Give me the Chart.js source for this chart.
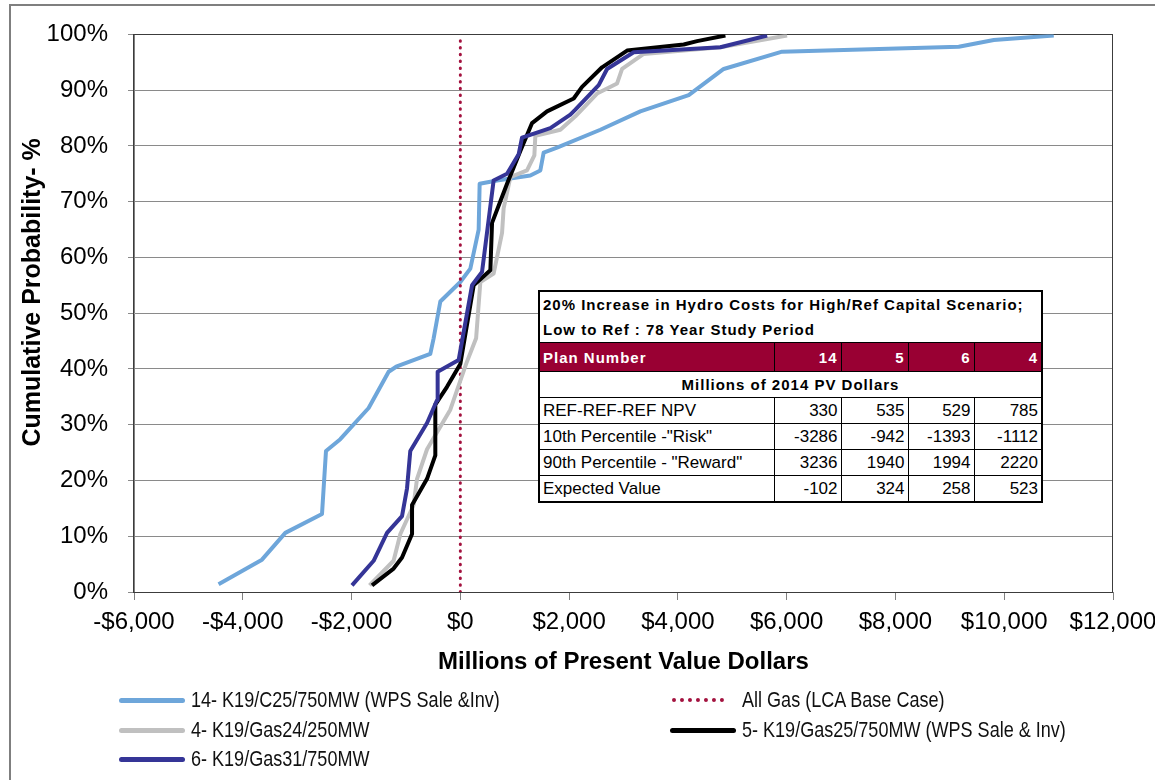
<!DOCTYPE html>
<html>
<head>
<meta charset="utf-8">
<script src="https://cdn.jsdelivr.net/npm/chart.js@4.4.0/dist/chart.umd.min.js"></script>
<style>
html,body{margin:0;padding:0;background:#fff;overflow:hidden;}
#wrap{position:relative;width:1155px;height:780px;overflow:hidden;}
#frame{position:absolute;left:9px;top:4px;width:1200px;height:820px;border:2px solid #7f7f7f;box-sizing:border-box;}
#c{position:absolute;left:0;top:0;}
#tbl{position:absolute;left:538px;top:290px;border-collapse:collapse;table-layout:fixed;border:2px solid #000;background:#fff;font-family:'Liberation Sans',Arial,sans-serif;color:#000;}
#tbl td{padding:0 3px;border:1px solid #000;white-space:nowrap;overflow:hidden;font-size:17px;height:25px;line-height:25px;}
#tbl tr.t td{border:none;font-weight:bold;font-size:15px;letter-spacing:1px;text-align:left;height:25px;}
#tbl tr.t1 td{border-top:2px solid #000;}
#tbl tr.h td{background:#990033;color:#fff;font-weight:bold;font-size:15px;letter-spacing:1px;height:28px;text-align:right;}
#tbl tr.h td:first-child{text-align:left;}
#tbl tr.m td{font-weight:bold;font-size:15px;letter-spacing:1px;text-align:center;}
#tbl tr.d td{text-align:right;}
#tbl tr.d td:first-child{text-align:left;}
.lgi{position:absolute;height:30px;line-height:30px;font-family:'Liberation Sans',Arial,sans-serif;font-size:22px;color:#111;white-space:nowrap;}
.sym{display:inline-block;vertical-align:middle;margin-right:6px;}
.txt{display:inline-block;vertical-align:middle;transform:scaleX(0.82);transform-origin:0 50%;}
</style>
</head>
<body>
<div id="wrap">
<div id="frame"></div>
<canvas id="c" width="1155" height="780"></canvas>
<table id="tbl"></table>
<div id="legend"></div>
</div>
<script>
// ---- data ----
const plan14X = [-4445,-3647,-3218,-2543,-2470,-2207,-1686,-1318,-1180,-552,-491,-368,0,184,337,355,675,1287,1471,1532,1778,2575,3310,4199,4842,5916,9164,9808,10911];
const plan14Y = [1.4,5.8,10.6,14.0,25.3,27.4,33.0,39.5,40.4,42.7,45.5,52.1,55.6,58.0,65.0,73.2,73.8,74.7,75.6,78.8,79.7,82.9,86.2,89.1,93.8,96.9,97.8,99.0,99.8];

const allGasX = [0,0];
const allGasY = [0,100];

const plan4X = [-1670,-1227,-1103,-859,-796,-612,-184,110,290,368,612,767,796,920,1226,1361,1379,1839,2115,2514,2882,2974,3371,4782,6008];
const plan4Y = [1.2,5.6,10.4,15.6,20.3,25.6,32.7,41.0,45.5,55.6,57.1,64.4,68.8,74.4,75.6,78.3,81.8,82.9,85.3,89.4,91.2,93.8,96.5,97.7,99.8];

const plan5X = [-1624,-1227,-1072,-888,-888,-612,-460,-460,-245,0,245,552,583,859,1103,1319,1594,2084,2238,2606,3066,4107,4353,4874];
const plan5Y = [1.2,4.2,6.2,10.4,15.6,20.3,24.5,33.6,36.8,40.9,55.0,57.7,66.2,73.2,79.1,84.1,86.2,88.5,90.6,94.1,97.1,98.2,98.8,99.8];

const plan6X = [-1992,-1594,-1348,-1072,-980,-920,-612,-429,-417,-31,215,399,612,859,1072,1134,1655,2023,2115,2544,2698,3187,4782,5641];
const plan6Y = [1.2,5.6,10.6,13.6,18.6,25.3,30.3,34.4,39.5,41.6,55.0,57.4,73.8,75.0,78.5,81.5,83.2,85.6,86.5,90.9,93.8,96.8,97.7,99.8];

const seriesLabels = ['14- K19/C25/750MW (WPS Sale &Inv)','All Gas (LCA Base Case)','4- K19/Gas24/250MW','5- K19/Gas25/750MW (WPS Sale & Inv)','6- K19/Gas31/750MW'];

const xTickValues = [-6000,-4000,-2000,0,2000,4000,6000,8000,10000,12000];
const yTickValues = [0,10,20,30,40,50,60,70,80,90,100];

const tableTitle1 = '20% Increase in Hydro Costs for High/Ref Capital Scenario;';
const tableTitle2 = 'Low to Ref : 78 Year Study Period';
const tableHeader = 'Plan Number';
const planNumbers = ['14','5','6','4'];
const tableUnits = 'Millions of 2014 PV Dollars';
const rowLabels = ['REF-REF-REF NPV','10th Percentile -"Risk"','90th Percentile - "Reward"','Expected Value'];
const rowNPV = [330,535,529,785];
const rowRisk = [-3286,-942,-1393,-1112];
const rowReward = [3236,1940,1994,2220];
const rowExpected = [-102,324,258,523];

// ---- helpers ----
const pts = (xs, ys) => xs.map((x, i) => ({x: x, y: ys[i]}));
const F = "'Liberation Sans', Arial, sans-serif";
const fmtMoney = v => (v < 0 ? '-$' : '$') + Math.abs(v).toLocaleString('en-US');

const colors = ['#6EA6DA', '#A3123F', '#C0C0C0', '#000000', '#353597'];

const datasets = [
  {label: seriesLabels[0], data: pts(plan14X, plan14Y), borderColor: colors[0], borderWidth: 4, order: 4},
  {label: seriesLabels[1], data: pts(allGasX, allGasY), borderColor: colors[1], borderWidth: 3, borderDash: [0.5, 6.3], borderCapStyle: 'round', order: 3, dotted: true},
  {label: seriesLabels[2], data: pts(plan4X, plan4Y), borderColor: colors[2], borderWidth: 4, order: 2},
  {label: seriesLabels[3], data: pts(plan5X, plan5Y), borderColor: colors[3], borderWidth: 4, order: 1},
  {label: seriesLabels[4], data: pts(plan6X, plan6Y), borderColor: colors[4], borderWidth: 4, order: 0}
];
datasets.forEach(d => { d.showLine = true; d.pointRadius = 0; d.pointHoverRadius = 0; d.tension = 0; d.fill = false; d.backgroundColor = d.borderColor; d.borderJoinStyle = 'round'; });

const framePlugin = {
  id: 'frame',
  beforeDatasetsDraw(chart) {
    const a = chart.chartArea, ctx = chart.ctx;
    ctx.save();
    ctx.strokeStyle = '#3c3c3c';
    ctx.lineWidth = 1;
    ctx.strokeRect(Math.round(a.left) - 0.5, Math.round(a.top) + 0.5, Math.round(a.right - a.left), Math.round(a.bottom - a.top));
    ctx.restore();
  }
};

const chart = new Chart(document.getElementById('c'), {
  type: 'scatter',
  data: {datasets: datasets},
  options: {
    responsive: false,
    animation: false,
    devicePixelRatio: 1,
    layout: {padding: {top: 25, right: 42, left: 0, bottom: 100}},
    plugins: {legend: {display: false}, tooltip: {enabled: false}},
    scales: {
      x: {
        type: 'linear', min: -6000, max: 12000,
        afterBuildTicks: s => { s.ticks = xTickValues.map(v => ({value: v})); },
        ticks: {callback: v => fmtMoney(v), font: {family: F, size: 24}, color: '#000', maxRotation: 0, autoSkip: false, padding: 8},
        grid: {drawOnChartArea: false, drawTicks: true, tickLength: 8, color: '#808080'},
        border: {display: true, color: '#808080'},
        title: {display: true, text: 'Millions of Present Value Dollars', font: {family: F, size: 24, weight: 'bold'}, color: '#000', padding: {top: 0, bottom: 3}},
        afterFit: s => { s.height = 88; s.paddingLeft = 0; s.paddingRight = 0; }
      },
      y: {
        type: 'linear', min: 0, max: 100,
        afterBuildTicks: s => { s.ticks = yTickValues.map(v => ({value: v})); },
        ticks: {callback: v => v + '%', font: {family: F, size: 24}, color: '#000', padding: 20},
        grid: {color: '#8a8a8a', lineWidth: 1, tickLength: 6},
        border: {display: true, color: '#808080'},
        title: {display: true, text: '      Cumulative Probability- %', font: {family: F, size: 25, weight: 'bold'}, color: '#000', padding: {top: 18, bottom: 0}},
        afterFit: s => { s.width = 134; }
      }
    }
  },
  plugins: [framePlugin]
});

// ---- table ----
(function buildTable() {
  const t = document.getElementById('tbl');
  const widths = [235, 67, 67, 66, 68];
  let html = '<colgroup>' + widths.map(w => '<col style="width:' + w + 'px">').join('') + '</colgroup>';
  html += '<tr class="t t1"><td colspan="5">' + tableTitle1 + '</td></tr>';
  html += '<tr class="t"><td colspan="5">' + tableTitle2 + '</td></tr>';
  html += '<tr class="h"><td>' + tableHeader + '</td>' + planNumbers.map(p => '<td>' + p + '</td>').join('') + '</tr>';
  html += '<tr class="m"><td colspan="5">' + tableUnits + '</td></tr>';
  const rows = [rowNPV, rowRisk, rowReward, rowExpected];
  rows.forEach((r, i) => {
    html += '<tr class="d"><td>' + rowLabels[i] + '</td>' + r.map(v => '<td>' + v + '</td>').join('') + '</tr>';
  });
  t.innerHTML = html;
})();

// ---- legend (built from chart datasets) ----
(function buildLegend() {
  const lg = document.getElementById('legend');
  const slots = [[119, 684], [670, 684], [119, 714], [670, 714], [119, 743]];
  chart.data.datasets.forEach((d, i) => {
    const item = document.createElement('div');
    item.className = 'lgi';
    item.style.left = slots[i][0] + 'px';
    item.style.top = slots[i][1] + 'px';
    const sym = document.createElement('span');
    sym.className = 'sym';
    if (d.dotted) {
      sym.style.width = '52px';
      sym.style.height = '0px';
      sym.style.borderTop = '4px dotted ' + d.borderColor;
      sym.style.marginRight = '18px';
      sym.style.marginLeft = '2px';
    } else {
      sym.style.width = '66px';
      sym.style.height = '5px';
      sym.style.borderRadius = '3px';
      sym.style.background = d.borderColor;
    }
    const txt = document.createElement('span');
    txt.className = 'txt';
    txt.textContent = d.label;
    item.appendChild(sym);
    item.appendChild(txt);
    lg.appendChild(item);
  });
})();
</script>
</body>
</html>
